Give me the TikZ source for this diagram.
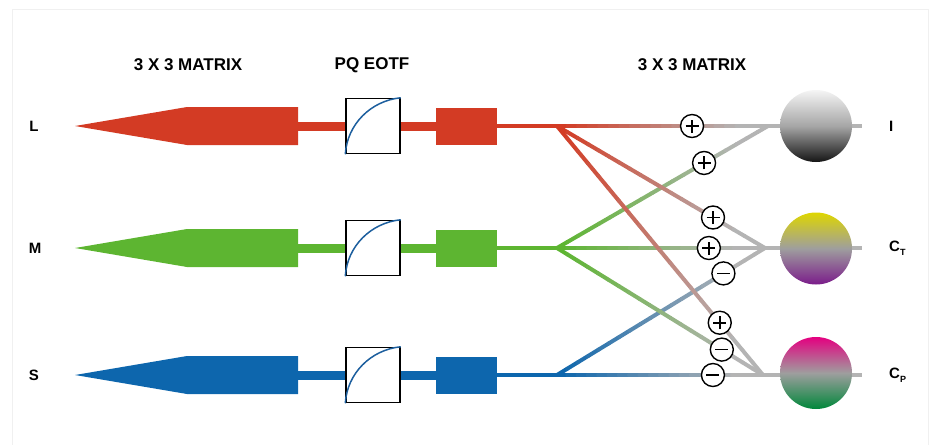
\documentclass[tikz,border=0pt]{standalone}
\usepackage{fontspec}
\setmainfont{Liberation Sans}
\usepackage{tikz}
\usetikzlibrary{shapes,arrows,positioning,calc}
\definecolor{lred}{HTML}{D33B24}
\definecolor{mgreen}{HTML}{5DB531}
\definecolor{sblue}{HTML}{0D66AD}
\definecolor{mixgray}{HTML}{B4B4B4}
\definecolor{curveblue}{HTML}{1D5F9E}
\definecolor{framegray}{HTML}{F0F0F0}
\tikzstyle{title} = [font=\fontsize{17}{20}\selectfont\bfseries]
\tikzstyle{chan} = [font=\fontsize{15}{18}\selectfont\bfseries, inner sep=0pt]
\tikzstyle{eotf} = [rectangle, draw, fill=white, line width=1.5pt, minimum width=54pt, minimum height=55pt, inner sep=0pt]
\tikzstyle{gain} = [rectangle, inner sep=0pt, minimum width=61pt, minimum height=37pt]
\tikzstyle{result} = [circle, inner sep=0pt, minimum size=72pt]
\tikzstyle{sign} = [circle, draw, fill=white, line width=1.4pt, minimum size=23pt, inner sep=0pt]
\tikzstyle{minus} = [sign, path picture={\draw [line width=1.6pt] ([xshift=-6.5pt]path picture bounding box.center) -- ([xshift=6.5pt]path picture bounding box.center);}]
\tikzstyle{plus} = [sign, path picture={\draw [line width=1.6pt] ([xshift=-6.5pt]path picture bounding box.center) -- ([xshift=6.5pt]path picture bounding box.center) ([yshift=-6.5pt]path picture bounding box.center) -- ([yshift=6.5pt]path picture bounding box.center);}]
\tikzstyle{trunk} = [draw, line width=9pt]
\tikzstyle{line} = [draw, line width=4pt]
\tikzstyle{curve} = [draw=curveblue, line width=1.5pt]
% colour fading connector: from, to, colour
\newcommand{\fadeline}[3]{%
  \foreach \k in {1,...,20}{
    \pgfmathtruncatemacro\mixpc{max(0,100-6*(\k-1))}
    \path [line, line cap=round, draw=#3!\mixpc!mixgray] ($(#1)!{(\k-1)/20}!(#2)$) -- ($(#1)!{\k/20}!(#2)$);
  }}
\begin{document}
\begin{tikzpicture}[x=1pt, y=-1pt]
			\useasboundingbox (0,0) rectangle (931,445);
			\draw [framegray, line width=1pt] (12,445) -- (12,9) -- (928,9) -- (928,445);
			
			\node [title] (mat1) at (188, 65) {3 X 3 MATRIX};
			\node [title] (pq) at (372, 65) {PQ EOTF};
			\node [title] (mat2) at (692, 65) {3 X 3 MATRIX};
			
			\node [chan] (lname) at (34, 126) {L};
			\node [chan] (mname) at (35, 248) {M};
			\node [chan] (sname) at (34, 375) {S};
			
			\coordinate (ltip) at (75, 126);
			\coordinate (mtip) at (75, 248);
			\coordinate (stip) at (75, 375);
			\fill [lred] (ltip) -- ++(112, -19) -- ++(111, 0) -- ++(0, 38) -- ++(-111, 0) -- cycle;
			\fill [mgreen] (mtip) -- ++(112, -19) -- ++(111, 0) -- ++(0, 38) -- ++(-111, 0) -- cycle;
			\fill [sblue] (stip) -- ++(112, -19) -- ++(111, 0) -- ++(0, 38) -- ++(-111, 0) -- cycle;
			\coordinate (lend) at (297, 126);
			\coordinate (mend) at (297, 248);
			\coordinate (send) at (297, 375);
			
			\node [gain, fill=lred] (lgain) at (466.5, 126) {};
			\node [gain, fill=mgreen] (mgain) at (466.5, 248) {};
			\node [gain, fill=sblue] (sgain) at (466.5, 375) {};
			\path [trunk, draw=lred] (lend) -- (lgain);
			\path [trunk, draw=mgreen] (mend) -- (mgain);
			\path [trunk, draw=sblue] (send) -- (sgain);
			
			\node [eotf] (leotf) at (373, 126) {};
			\node [eotf] (meotf) at (373, 248) {};
			\node [eotf] (seotf) at (373, 375) {};
			\path [curve] (leotf.south west) .. controls ($(leotf.south west)+(2,-30)$) and ($(leotf.north east)+(-30,3)$) .. (leotf.north east);
			\path [curve] (meotf.south west) .. controls ($(meotf.south west)+(2,-30)$) and ($(meotf.north east)+(-30,3)$) .. (meotf.north east);
			\path [curve] (seotf.south west) .. controls ($(seotf.south west)+(2,-30)$) and ($(seotf.north east)+(-30,3)$) .. (seotf.north east);
			
			\coordinate (lbr) at (557, 126);
			\coordinate (mbr) at (557, 248);
			\coordinate (sbr) at (557, 375);
			\path [line, draw=lred] (lgain) -- (lbr);
			\path [line, draw=mgreen] (mgain) -- (mbr);
			\path [line, draw=sblue] (sgain) -- (sbr);
			
			\coordinate (imerge) at (768, 126);
			\coordinate (ctmerge) at (765, 248);
			\coordinate (cpmerge) at (763, 375);
			\coordinate (iend) at (862, 126);
			\coordinate (ctend) at (862, 248);
			\coordinate (cpend) at (862, 375);
			\path [line, draw=mixgray] (imerge) -- (iend);
			\path [line, draw=mixgray] (ctmerge) -- (ctend);
			\path [line, draw=mixgray] (cpmerge) -- (cpend);
			
			\fadeline{lbr}{imerge}{lred}
			\fadeline{mbr}{imerge}{mgreen}
			\fadeline{lbr}{ctmerge}{lred}
			\fadeline{mbr}{ctmerge}{mgreen}
			\fadeline{sbr}{ctmerge}{sblue}
			\fadeline{lbr}{cpmerge}{lred}
			\fadeline{mbr}{cpmerge}{mgreen}
			\fadeline{sbr}{cpmerge}{sblue}
			
			\node [plus] (li) at ($(lbr)!0.64!(imerge)$) {};
			\node [plus] (mi) at ($(mbr)!0.697!(imerge)$) {};
			\node [plus] (lct) at ($(lbr)!0.75!(ctmerge)$) {};
			\node [plus] (mct) at ($(mbr)!0.73!(ctmerge)$) {};
			\node [minus] (sct) at ($(sbr)!0.80!(ctmerge)$) {};
			\node [plus] (lcp) at ($(lbr)!0.79!(cpmerge)$) {};
			\node [minus] (mcp) at ($(mbr)!0.80!(cpmerge)$) {};
			\node [minus] (scp) at ($(sbr)!0.757!(cpmerge)$) {};
			
			\node [result, top color=black!4, bottom color=black!92, middle color=black!35] (icirc) at (816, 126) {};
			\node [result, top color={rgb,255:red,222;green,214;blue,0}, bottom color={rgb,255:red,122;green,28;blue,138}, middle color=black!38] (ctcirc) at (816, 248.5) {};
			\node [result, top color={rgb,255:red,228;green,0;blue,128}, bottom color={rgb,255:red,0;green,135;blue,58}, middle color=black!38] (cpcirc) at (816, 373) {};
			
			\node [chan, anchor=west] (iname) at (889, 126) {I};
			\node [chan, anchor=west] (ctname) at (889, 248) {C\raisebox{-0.45ex}{\fontsize{9}{9}\selectfont T}};
			\node [chan, anchor=west] (cpname) at (889, 375) {C\raisebox{-0.45ex}{\fontsize{9}{9}\selectfont P}};
		\end{tikzpicture}
\end{document}
